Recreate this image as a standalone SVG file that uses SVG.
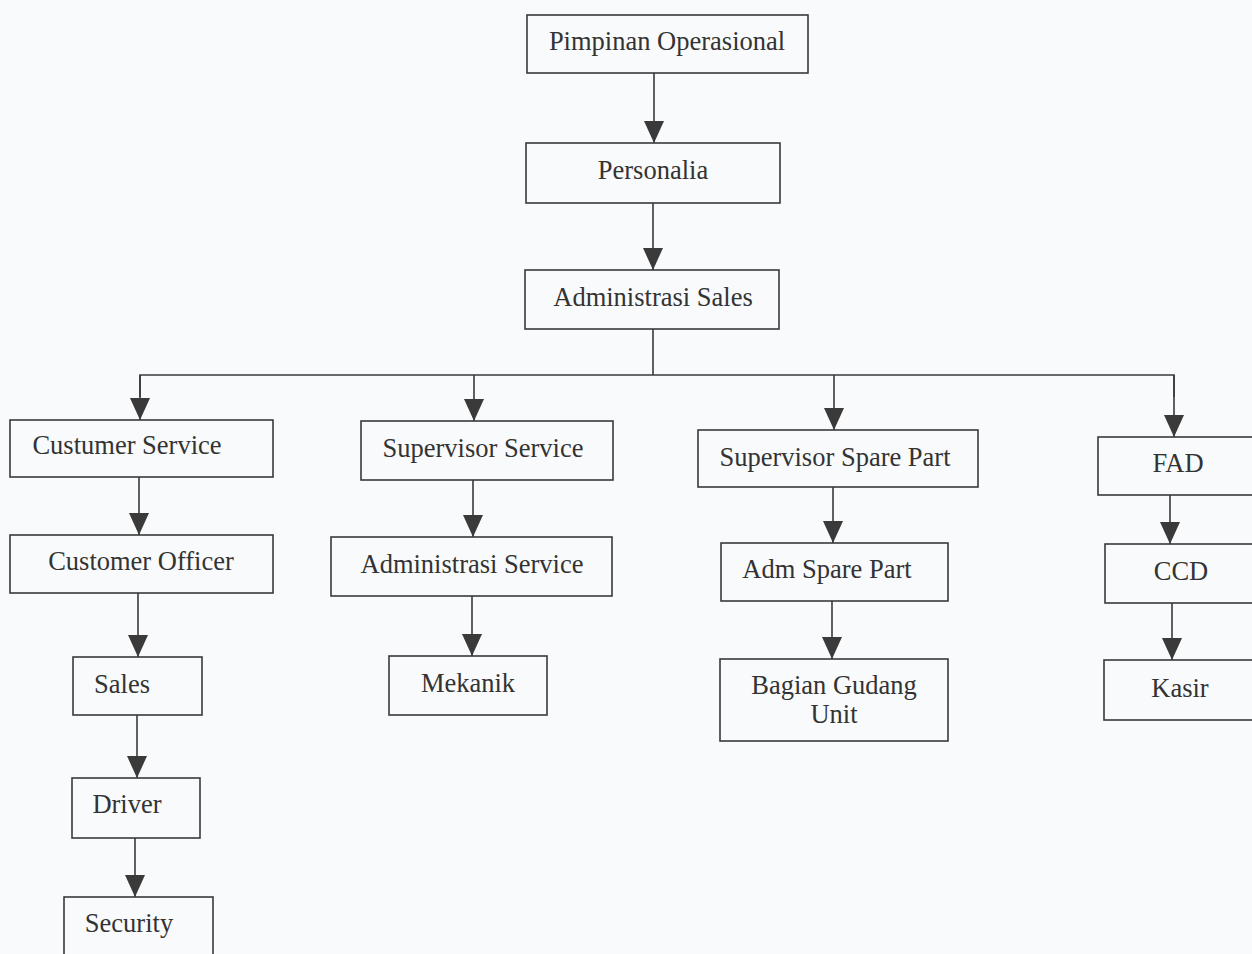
<svg xmlns="http://www.w3.org/2000/svg" width="1252" height="954" viewBox="0 0 1252 954">
<defs>
<marker id="ah" viewBox="0 0 22 20" refX="22" refY="10" markerWidth="22" markerHeight="20" markerUnits="userSpaceOnUse" orient="auto">
<path d="M0,0 L22,10 L0,20 z" fill="#3a3a3a"/>
</marker>
<style>
.box{fill:none;stroke:#3a3a3a;stroke-width:1.6}
.t{font-family:"Liberation Serif","Times New Roman",serif;font-size:26.5px;fill:#333;text-anchor:middle}
.c{fill:none;stroke:#3a3a3a;stroke-width:1.6}
.a{marker-end:url(#ah)}
</style>
</defs>
<rect width="1252" height="954" fill="#f9fafb"/>
<g id="connectors">
<line class="c a" x1="654" y1="73" x2="654" y2="143"/>
<line class="c a" x1="653" y1="203" x2="653" y2="270"/>
<polyline class="c" points="653,329 653,375"/>
<polyline class="c" points="140,397 140,375 1174,375 1174,397"/>
<line class="c a" x1="140" y1="375" x2="140" y2="420"/>
<line class="c a" x1="474" y1="375" x2="474" y2="421"/>
<line class="c a" x1="834" y1="375" x2="834" y2="430"/>
<line class="c a" x1="1174" y1="375" x2="1174" y2="437"/>
<line class="c a" x1="139" y1="477" x2="139" y2="535"/>
<line class="c a" x1="138" y1="593" x2="138" y2="657"/>
<line class="c a" x1="137" y1="715" x2="137" y2="778"/>
<line class="c a" x1="135" y1="838" x2="135" y2="897"/>
<line class="c a" x1="473" y1="480" x2="473" y2="537"/>
<line class="c a" x1="472" y1="596" x2="472" y2="656"/>
<line class="c a" x1="833" y1="487" x2="833" y2="543"/>
<line class="c a" x1="832" y1="601" x2="832" y2="659"/>
<line class="c a" x1="1170" y1="495" x2="1170" y2="544"/>
<line class="c a" x1="1172" y1="603" x2="1172" y2="660"/>
</g>
<g id="pimpinan"><rect class="box" x="527" y="15" width="281" height="58"/><text class="t" x="667" y="50">Pimpinan Operasional</text></g>
<g id="personalia"><rect class="box" x="526" y="143" width="254" height="60"/><text class="t" x="653" y="179">Personalia</text></g>
<g id="adm-sales"><rect class="box" x="525" y="270" width="254" height="59"/><text class="t" x="653" y="306">Administrasi Sales</text></g>
<g id="custumer-service"><rect class="box" x="10" y="420" width="263" height="57"/><text class="t" x="127" y="454">Custumer Service</text></g>
<g id="customer-officer"><rect class="box" x="10" y="535" width="263" height="58"/><text class="t" x="141" y="570">Customer Officer</text></g>
<g id="sales"><rect class="box" x="73" y="657" width="129" height="58"/><text class="t" x="122" y="693">Sales</text></g>
<g id="driver"><rect class="box" x="72" y="778" width="128" height="60"/><text class="t" x="127" y="813">Driver</text></g>
<g id="security"><rect class="box" x="64" y="897" width="149" height="70"/><text class="t" x="129" y="932">Security</text></g>
<g id="supervisor-service"><rect class="box" x="361" y="421" width="252" height="59"/><text class="t" x="483" y="457">Supervisor Service</text></g>
<g id="adm-service"><rect class="box" x="331" y="537" width="281" height="59"/><text class="t" x="472" y="573">Administrasi Service</text></g>
<g id="mekanik"><rect class="box" x="389" y="656" width="158" height="59"/><text class="t" x="468" y="692">Mekanik</text></g>
<g id="supervisor-sparepart"><rect class="box" x="698" y="430" width="280" height="57"/><text class="t" x="835" y="466">Supervisor Spare Part</text></g>
<g id="adm-sparepart"><rect class="box" x="721" y="543" width="227" height="58"/><text class="t" x="827" y="578">Adm Spare Part</text></g>
<g id="gudang"><rect class="box" x="720" y="659" width="228" height="82"/><text class="t" x="834" y="694">Bagian Gudang</text><text class="t" x="834" y="723">Unit</text></g>
<g id="fad"><rect class="box" x="1098" y="437" width="170" height="58"/><text class="t" x="1178" y="472">FAD</text></g>
<g id="ccd"><rect class="box" x="1105" y="544" width="170" height="59"/><text class="t" x="1181" y="580">CCD</text></g>
<g id="kasir"><rect class="box" x="1104" y="660" width="170" height="60"/><text class="t" x="1180" y="697">Kasir</text></g>
</svg>
